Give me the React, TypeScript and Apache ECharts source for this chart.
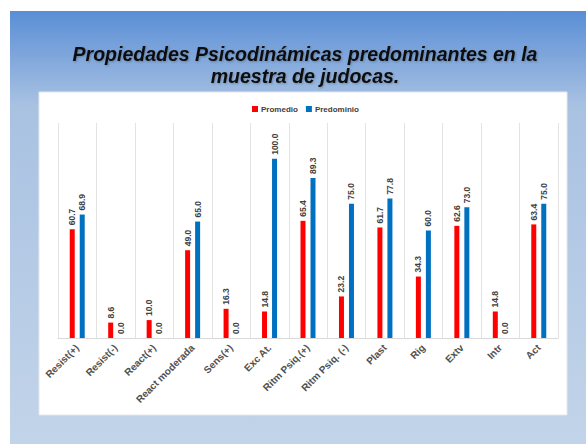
import React, { useEffect, useRef } from "react";
import * as echarts from "echarts";

const categories = [
  "Resist(+)", "Resist(-)", "React(+)", "React moderada", "Sens(+)", "Exc At.",
  "Ritm Psiq.(+)", "Ritm Psiq. (-)", "Plast", "Rig", "Extv", "Intr", "Act",
];
const promedio = [60.7, 8.6, 10.0, 49.0, 16.3, 14.8, 65.4, 23.2, 61.7, 34.3, 62.6, 14.8, 63.4];
const predominio = [68.9, 0.0, 0.0, 65.0, 0.0, 100.0, 89.3, 75.0, 77.8, 60.0, 73.0, 0.0, 75.0];
const titleText = "Propiedades Psicodinámicas predominantes en la\nmuestra de judocas.";

export default function App() {
  const ref = useRef<HTMLDivElement>(null);
  useEffect(() => {
    const chart = echarts.init(ref.current!, null, { renderer: "svg" });
    const label = {
      show: true,
      position: "top",
      rotate: 90,
      align: "left",
      verticalAlign: "middle",
      distance: 4,
      fontSize: 8.5,
      fontWeight: "bold",
      color: "#404040",
      fontFamily: "Liberation Sans, Arial, sans-serif",
      formatter: (p: any) => Number(p.value).toFixed(1),
    };
    chart.setOption({
      animation: false,
      graphic: [
        {
          type: "rect",
          silent: true,
          z: -10,
          shape: { x: 10, y: 11, width: 576, height: 433 },
          style: {
            fill: new echarts.graphic.LinearGradient(0, 0, 0, 1, [
              { offset: 0, color: "#5a8ed6" },
              { offset: 0.22, color: "#a9c2e2" },
              { offset: 1, color: "#c2d4e9" },
            ]),
          },
        },
        {
          type: "rect",
          silent: true,
          z: -9,
          shape: { x: 39, y: 92, width: 528, height: 323 },
          style: { fill: "#ffffff", stroke: "#e4e8ee", lineWidth: 1 },
        },
        {
          type: "text",
          silent: true,
          x: 305,
          y: 43,
          style: {
            text: titleText,
            fontSize: 19.5,
            fontWeight: "bold",
            fontStyle: "italic",
            fontFamily: "Liberation Sans, Arial, sans-serif",
            fill: "#111111",
            align: "center",
            verticalAlign: "top",
            lineHeight: 22,
            textShadowColor: "rgba(0,0,0,0.25)",
            textShadowBlur: 2,
            textShadowOffsetX: 1,
            textShadowOffsetY: 1,
          },
        },
      ],
      legend: {
        top: 100,
        left: 247,
        itemWidth: 6,
        itemHeight: 6,
        itemGap: 8,
        icon: "rect",
        textStyle: {
          fontSize: 8,
          fontWeight: "bold",
          color: "#404040",
          fontFamily: "Liberation Sans, Arial, sans-serif",
          padding: [0, 0, 0, -2],
        },
        data: ["Promedio", "Predominio"],
      },
      grid: { left: 58, right: 28, top: 123, bottom: 106 },
      xAxis: {
        type: "category",
        data: categories,
        axisLine: { lineStyle: { color: "#d9d9d9" } },
        axisTick: { show: false },
        splitLine: { show: true, lineStyle: { color: "#e3e3e3" } },
        axisLabel: {
          interval: 0,
          rotate: 45,
          fontSize: 10,
          fontWeight: "bold",
          color: "#505050",
          margin: 8,
          fontFamily: "Liberation Sans, Arial, sans-serif",
        },
      },
      yAxis: {
        type: "value",
        min: 0,
        max: 120,
        show: false,
        splitLine: { show: false },
      },
      series: [
        {
          name: "Promedio",
          type: "bar",
          data: promedio,
          barWidth: 5,
          barGap: "100%",
          itemStyle: { color: "#ff0000" },
          label,
        },
        {
          name: "Predominio",
          type: "bar",
          data: predominio,
          barWidth: 5,
          itemStyle: { color: "#0070c0" },
          label,
        },
      ],
    });
    return () => chart.dispose();
  }, []);
  return (
    <div
      ref={ref}
      style={{ position: "fixed", left: 0, top: 0, width: 586, height: 444, background: "#ffffff" }}
    />
  );
}
